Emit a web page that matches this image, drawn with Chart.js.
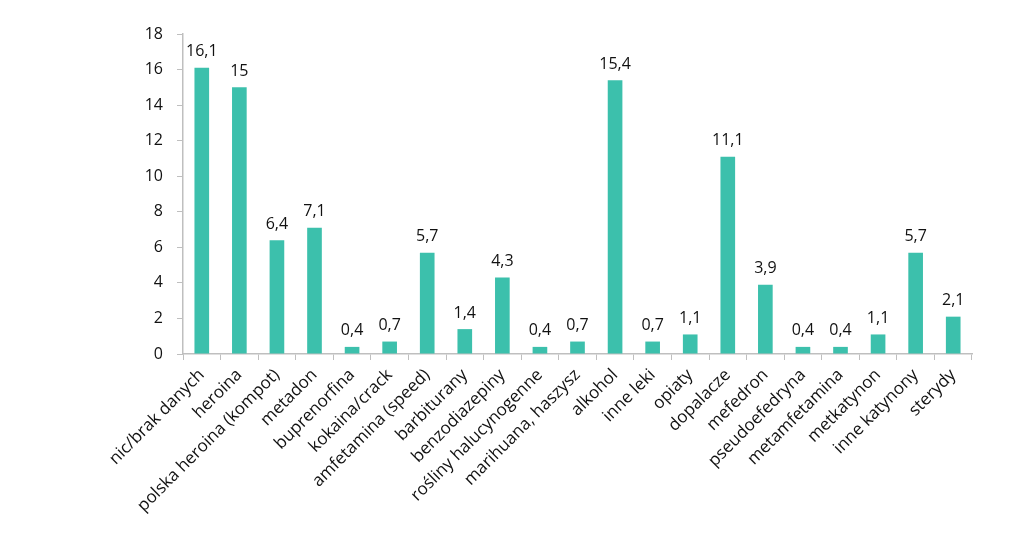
<!DOCTYPE html>
<html>
<head>
<meta charset="utf-8">
<script src="https://cdn.jsdelivr.net/npm/chart.js@4"></script>
<style>
  html, body { margin: 0; padding: 0; background: #fff; }
  #wrap { width: 1024px; height: 547px; }
</style>
</head>
<body>
<div id="wrap"><canvas id="substancesChart" width="1024" height="547"></canvas></div>
<script>
const categories = [
  'nic/brak danych', 'heroina', 'polska heroina (kompot)', 'metadon', 'buprenorfina',
  'kokaina/crack', 'amfetamina (speed)', 'barbiturany', 'benzodiazepiny',
  'rośliny halucynogenne', 'marihuana, haszysz', 'alkohol', 'inne leki', 'opiaty',
  'dopalacze', 'mefedron', 'pseudoefedryna', 'metamfetamina', 'metkatynon',
  'inne katynony', 'sterydy'
];
const values = [16.1, 15, 6.4, 7.1, 0.4, 0.7, 5.7, 1.4, 4.3, 0.4, 0.7, 15.4, 0.7, 1.1, 11.1, 3.9, 0.4, 0.4, 1.1, 5.7, 2.1];
const yTicks = [0, 2, 4, 6, 8, 10, 12, 14, 16, 18];

const fontFamily = '"Open Sans", "Noto Sans", sans-serif';
const axisColor = '#bfbfbf';
const textColor = '#111';

// labels over the bars, decimal comma
const valueLabels = {
  id: 'valueLabels',
  afterDatasetsDraw(chart) {
    const ctx = chart.ctx;
    const meta = chart.getDatasetMeta(0);
    ctx.save();
    ctx.font = '16px ' + fontFamily;
    ctx.fillStyle = textColor;
    ctx.textAlign = 'center';
    ctx.textBaseline = 'bottom';
    meta.data.forEach((bar, i) => {
      ctx.fillText(String(values[i]).replace('.', ','), bar.x, bar.y - 8);
    });
    ctx.restore();
  }
};

new Chart(document.getElementById('substancesChart'), {
  type: 'bar',
  data: {
    labels: categories,
    datasets: [{
      data: values,
      backgroundColor: '#3cc0ac',
      borderWidth: 0,
      barPercentage: 0.39,
      categoryPercentage: 1
    }]
  },
  options: {
    responsive: false,
    animation: false,
    layout: { padding: { left: 0, right: 52, top: 34, bottom: 0 } },
    plugins: {
      legend: { display: false },
      tooltip: { enabled: false }
    },
    scales: {
      x: {
        grid: { display: true, drawOnChartArea: false, color: axisColor, tickLength: 6, offset: true },
        border: { color: axisColor, width: 1.5 },
        ticks: {
          autoSkip: false,
          minRotation: 45,
          maxRotation: 45,
          color: textColor,
          padding: 5,
          font: { family: fontFamily, size: 17 }
        },
        afterFit(scale) { scale.height = 193; }
      },
      y: {
        min: 0,
        max: 18,
        afterBuildTicks(scale) { scale.ticks = yTicks.map(v => ({ value: v })); },
        grid: { display: true, drawOnChartArea: false, color: axisColor, tickLength: 6 },
        border: { color: axisColor, width: 1.5 },
        ticks: {
          color: textColor,
          padding: 14,
          font: { family: fontFamily, size: 16 }
        },
        afterFit(scale) { scale.width = 183; }
      }
    }
  },
  plugins: [valueLabels]
});
</script>
</body>
</html>
